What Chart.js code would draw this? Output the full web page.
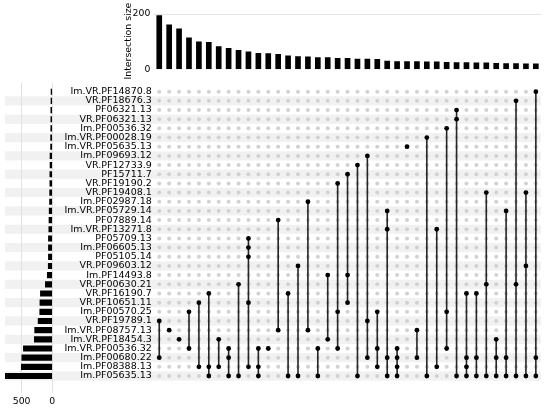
<!DOCTYPE html>
<html>
<head>
<meta charset="utf-8">
<script src="https://cdn.jsdelivr.net/npm/chart.js@4.4.0/dist/chart.umd.min.js"></script>
<style>
  body { margin: 0; background: #fff; }
  #wrap { position: relative; width: 550px; height: 409px; }
  canvas { position: absolute; left: 0; top: 0; }
</style>
</head>
<body>
<div id="wrap">
  <canvas id="matrix" width="550" height="409"></canvas>
  <canvas id="sets" width="550" height="409"></canvas>
  <canvas id="inter" width="550" height="409"></canvas>
</div>
<script>
// sets, top row first
var setNames = [
  "Im.VR.PF14870.8", "VR.PF18676.3", "PF06321.13", "VR.PF06321.13",
  "Im.PF00536.32", "Im.VR.PF00028.19", "Im.VR.PF05635.13", "Im.PF09693.12",
  "VR.PF12733.9", "PF15711.7", "VR.PF19190.2", "VR.PF19408.1",
  "Im.PF02987.18", "Im.VR.PF05729.14", "PF07889.14", "Im.VR.PF13271.8",
  "PF05709.13", "Im.PF06605.13", "PF05105.14", "VR.PF09603.12",
  "Im.PF14493.8", "VR.PF00630.21", "VR.PF16190.7", "VR.PF10651.11",
  "Im.PF00570.25", "VR.PF19789.1", "Im.VR.PF08757.13", "Im.VR.PF18454.3",
  "Im.VR.PF00536.32", "Im.PF00680.22", "Im.PF08388.13", "Im.PF05635.13"
]
var setSizes = [
  20, 21, 24, 24, 25, 27, 28, 37,
  37, 40, 40, 43, 45, 51, 54, 57,
  63, 63, 63, 66, 82, 113, 194, 202,
  205, 231, 288, 293, 472, 498, 506, 772
]
var setTicks = [0, 500]

// intersection bars, left to right
var intersectionSizes = [
  194, 161, 146, 114, 99, 98, 82, 76, 69, 63,
  58, 57, 54, 49, 46, 45, 42, 42, 40, 40,
  37, 37, 36, 30, 28, 28, 28, 27, 27, 25,
  24, 24, 23, 23, 22, 21, 21, 20, 20
]
var intersectionTicks = [0, 200]

// members of each intersection (index into setNames)
var intersectionSets = [
  [25, 29], [26], [27], [24, 28], [23, 30], [22, 30, 31], [27, 30], [28, 29, 31], [21, 31], [16, 17, 18, 23, 30],
  [28, 30, 31], [28], [14, 26], [22, 31], [19, 31], [12, 26], [28, 31], [20, 27], [10, 24, 28], [9, 20, 23],
  [8, 31], [7, 25, 29], [24, 28, 30], [13, 15, 29, 31], [28, 29, 30, 31], [6], [26, 29], [5, 31], [15, 30], [4, 24, 28],
  [2, 3, 31], [22, 29, 30, 31], [22, 29, 31], [11, 21, 31], [27, 29, 31], [13, 29, 31], [1, 21, 31], [11, 19, 31], [0, 29, 31]
]

Chart.defaults.font.family = "DejaVu Sans"
Chart.defaults.font.size = 9
Chart.defaults.color = "#000"
Chart.defaults.animation = false
Chart.defaults.responsive = false
Chart.defaults.plugins.legend.display = false
Chart.defaults.plugins.tooltip.enabled = false

function fixedTicks(list) {
  return function(s) { s.ticks = list.map(function(v) { return {value: v} }) }
}

// alternating row shading behind the matrix and the set size bars
var stripes = {
  id: "stripes",
  beforeDraw: function(chart) {
    var ctx = chart.ctx
    var y = chart.scales.y
    ctx.save()
    ctx.fillStyle = "#f1f1f1"
    for (var i = 1; i < setNames.length; i += 2) {
      var top = y.getPixelForValue(i - 0.5)
      var bot = y.getPixelForValue(i + 0.5)
      ctx.fillRect(5, top, chart.chartArea.right - 5, bot - top)
    }
    ctx.restore()
  }
}

var greyDots = []
var blackDots = []
intersectionSizes.forEach(function(v, c) {
  setNames.forEach(function(n, r) { greyDots.push({x: c, y: r}) })
  intersectionSets[c].forEach(function(r) { blackDots.push({x: c, y: r}) })
})

var matrixData = [{
  data: blackDots,
  backgroundColor: "#000",
  pointRadius: 2.4,
  borderWidth: 0,
  order: 0
}]
intersectionSets.forEach(function(rows, c) {
  if (rows.length < 2) return
  matrixData.push({
    type: "line",
    data: [{x: c, y: Math.min.apply(null, rows)}, {x: c, y: Math.max.apply(null, rows)}],
    borderColor: "#262626",
    borderWidth: 1.6,
    pointRadius: 0,
    order: 1
  })
})
matrixData.push({
  data: greyDots,
  backgroundColor: "#d2d2d2",
  pointRadius: 2,
  borderWidth: 0,
  order: 2
})

new Chart(document.getElementById("matrix"), {
  type: "scatter",
  data: {datasets: matrixData},
  options: {
    layout: {padding: {left: 0, right: 9.2, top: 87.1, bottom: 28.4}},
    scales: {
      x: {type: "linear", min: -0.5, max: 38.5, display: false},
      y: {
        type: "linear", min: -0.5, max: 31.5, reverse: true,
        border: {display: false},
        grid: {display: false, drawTicks: false},
        ticks: {
          autoSkip: false, padding: 2.5, font: {size: 9.5},
          callback: function(v) { return setNames[v] }
        },
        afterBuildTicks: fixedTicks(setNames.map(function(n, i) { return i })),
        afterFit: function(s) { s.width = 154.3 }
      }
    }
  },
  plugins: [stripes]
})

new Chart(document.getElementById("sets"), {
  type: "bar",
  data: {datasets: [{
    data: setSizes.map(function(v, i) { return {x: v, y: i} }),
    backgroundColor: "#000",
    barThickness: 5.5
  }]},
  options: {
    indexAxis: "y",
    layout: {padding: {left: 5, right: 497.7, top: 83, bottom: 0}},
    scales: {
      x: {
        type: "linear", reverse: true, min: 0, max: 772,
        border: {display: false},
        grid: {color: "#e2e2e2", drawTicks: false},
        ticks: {padding: 3, font: {size: 9.3}},
        afterBuildTicks: fixedTicks(setTicks),
        afterFit: function(s) { s.height = 16 }
      },
      y: {type: "linear", reverse: true, min: -0.95, max: 32.85, offset: false, display: false}
    }
  }
})

new Chart(document.getElementById("inter"), {
  type: "bar",
  data: {
    labels: intersectionSizes.map(function(v, i) { return String(i + 1) }),
    datasets: [{data: intersectionSizes, backgroundColor: "#000", barThickness: 5}]
  },
  options: {
    layout: {padding: {left: 123, right: 9.2, top: 12.9, bottom: 339.7}},
    scales: {
      x: {display: false},
      y: {
        min: 0, max: 204,
        border: {display: false},
        grid: {
          drawTicks: false,
          color: function(c) { return c.tick && c.tick.value == 200 ? "#e4e4e4" : "rgba(0,0,0,0)" }
        },
        ticks: {padding: 4, font: {size: 9.3}},
        afterBuildTicks: fixedTicks(intersectionTicks),
        title: {display: true, text: "Intersection size", padding: 0, font: {size: 9.4}},
        afterFit: function(s) { s.width = 31.3 }
      }
    }
  }
})
</script>
</body>
</html>
